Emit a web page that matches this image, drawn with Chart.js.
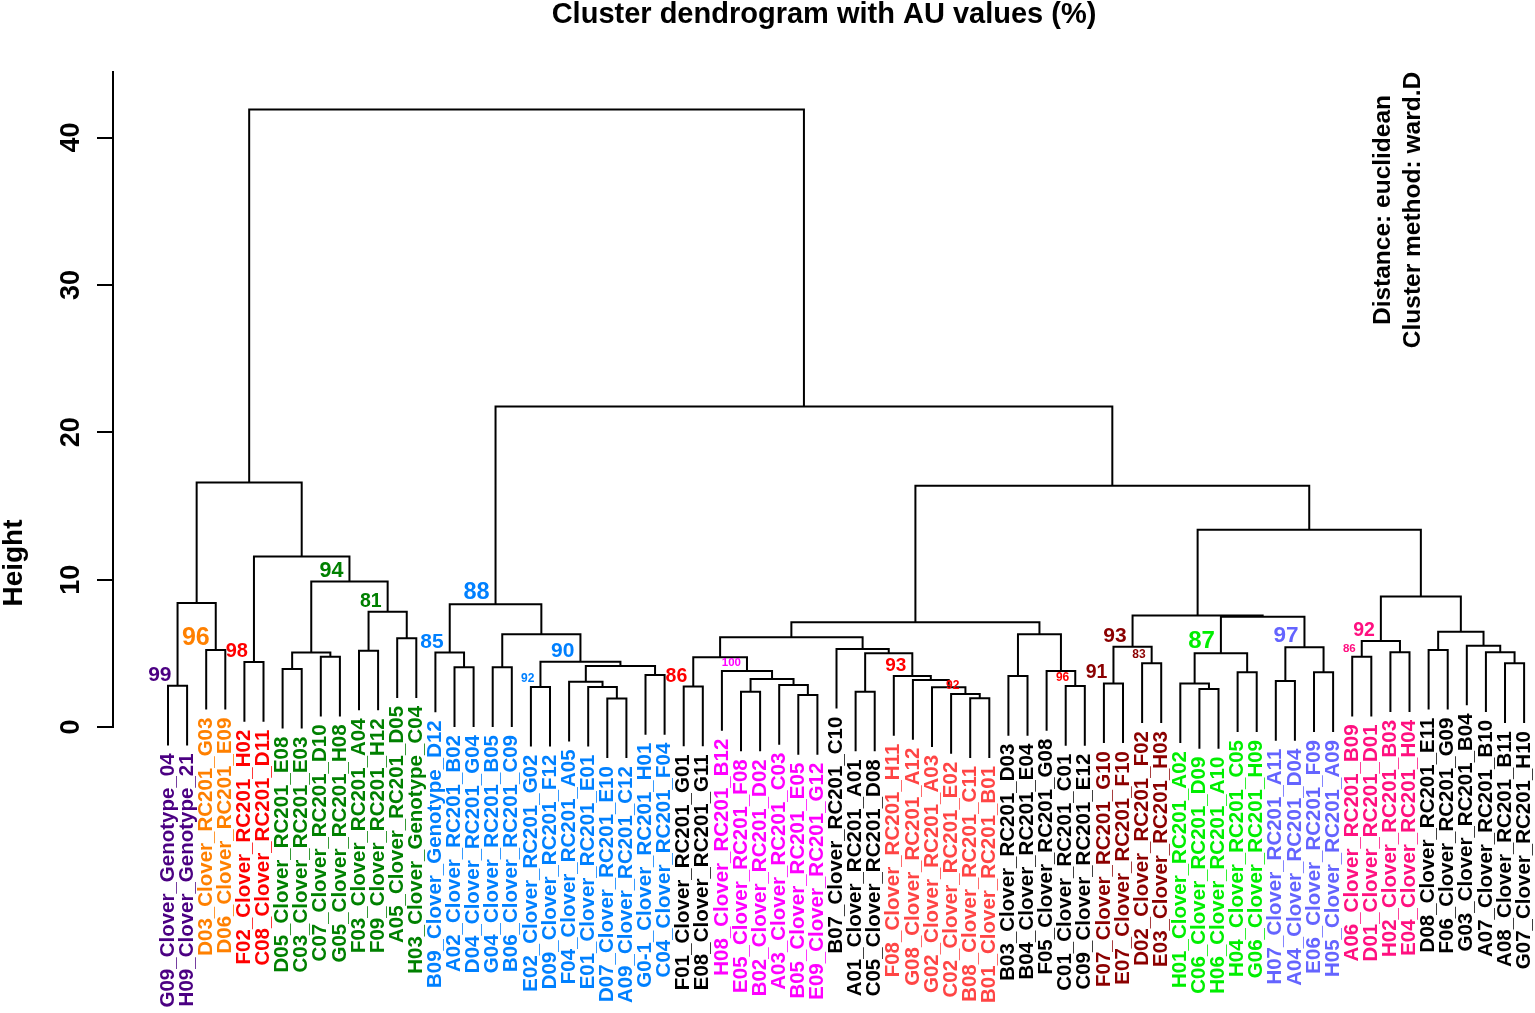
<!DOCTYPE html>
<html>
<head>
<meta charset="utf-8">
<title>Cluster dendrogram with AU values (%)</title>
<script src="https://cdn.jsdelivr.net/npm/chart.js@4.4.1/dist/chart.umd.min.js"></script>
<style>
  html, body { margin: 0; padding: 0; background: #fff; }
</style>
</head>
<body>
<canvas id="dendro" width="1535" height="1013"></canvas>
<script>
// leaves, in the order they are drawn left to right
const leafLabels = [
  'G09_Clover_Genotype_04', 'H09_Clover_Genotype_21',
  'D03_Clover_RC201_G03', 'D06_Clover_RC201_E09',
  'F02_Clover_RC201_H02', 'C08_Clover_RC201_D11',
  'D05_Clover_RC201_E08', 'C03_Clover_RC201_E03', 'C07_Clover_RC201_D10', 'G05_Clover_RC201_H08',
  'F03_Clover_RC201_A04', 'F09_Clover_RC201_H12', 'A05_Clover_RC201_D05', 'H03_Clover_Genotype_C04',
  'B09_Clover_Genotype_D12', 'A02_Clover_RC201_B02', 'D04_Clover_RC201_G04', 'G04_Clover_RC201_B05',
  'B06_Clover_RC201_C09', 'E02_Clover_RC201_G02', 'D09_Clover_RC201_F12', 'F04_Clover_RC201_A05',
  'E01_Clover_RC201_E01', 'D07_Clover_RC201_E10', 'A09_Clover_RC201_C12', 'G0-1_Clover_RC201_H01',
  'C04_Clover_RC201_F04',
  'F01_Clover_RC201_G01', 'E08_Clover_RC201_G11',
  'H08_Clover_RC201_B12', 'E05_Clover_RC201_F08', 'B02_Clover_RC201_D02', 'A03_Clover_RC201_C03',
  'B05_Clover_RC201_E05', 'E09_Clover_RC201_G12',
  'B07_Clover_RC201_C10', 'A01_Clover_RC201_A01', 'C05_Clover_RC201_D08',
  'F08_Clover_RC201_H11', 'G08_Clover_RC201_A12', 'G02_Clover_RC201_A03', 'C02_Clover_RC201_E02',
  'B08_Clover_RC201_C11', 'B01_Clover_RC201_B01',
  'B03_Clover_RC201_D03', 'B04_Clover_RC201_E04', 'F05_Clover_RC201_G08', 'C01_Clover_RC201_C01',
  'C09_Clover_RC201_E12',
  'F07_Clover_RC201_G10', 'E07_Clover_RC201_F10', 'D02_Clover_RC201_F02', 'E03_Clover_RC201_H03',
  'H01_Clover_RC201_A02', 'C06_Clover_RC201_D09', 'H06_Clover_RC201_A10', 'H04_Clover_RC201_C05',
  'G06_Clover_RC201_H09',
  'H07_Clover_RC201_A11', 'A04_Clover_RC201_D04', 'E06_Clover_RC201_F09', 'H05_Clover_RC201_A09',
  'A06_Clover_RC201_B09', 'D01_Clover_RC201_D01', 'H02_Clover_RC201_B03', 'E04_Clover_RC201_H04',
  'D08_Clover_RC201_E11', 'F06_Clover_RC201_G09', 'G03_Clover_RC201_B04', 'A07_Clover_RC201_B10',
  'A08_Clover_RC201_B11', 'G07_Clover_RC201_H10'
];

// runs of consecutive leaves sharing a label colour
const groupSizes = [2, 2, 2, 8, 13, 2, 6, 3, 6, 5, 4, 5, 4, 4, 6];
const groupColors = ['#4B0082', '#FF8000', '#FF0000', '#008000', '#0080FF', '#000000', '#FF00FF',
  '#000000', '#FF4545', '#000000', '#8B0000', '#00EE00', '#6464FF', '#FF1080', '#000000'];

// hclust style merge table: negative = leaf number, positive = earlier merge number
const merges = [
  [-1, -2], [-3, -4], [1, 2], [-5, -6], [-7, -8], [-9, -10], [5, 6], [-11, -12], [-13, -14], [8, 9],
  [7, 10], [4, 11], [3, 12], [-16, -17], [-15, 14], [-18, -19], [-20, -21], [-24, -25], [-23, 18], [-22, 19],
  [-26, -27], [20, 21], [17, 22], [16, 23], [15, 24], [-28, -29], [-31, -32], [-34, -35], [-33, 28], [27, 29],
  [-30, 30], [26, 31], [-37, -38], [-43, -44], [-42, 34], [-41, 35], [-40, 36], [-39, 37], [33, 38], [-36, 39],
  [32, 40], [-45, -46], [-48, -49], [-47, 43], [42, 44], [41, 45], [-50, -51], [-52, -53], [47, 48], [-55, -56],
  [-54, 50], [-57, -58], [51, 52], [-59, -60], [-61, -62], [54, 55], [53, 56], [49, 57], [-63, -64], [-65, -66],
  [59, 60], [-71, -72], [-70, 62], [-69, 63], [-67, -68], [65, 64], [61, 66], [58, 67], [46, 68], [25, 69],
  [13, 70]
];
const heights = [
  2.80, 5.23, 8.42, 4.41, 3.94, 4.77, 5.05, 5.18, 6.02, 7.82,
  9.87, 11.57, 16.59, 4.05, 5.05, 4.05, 2.72, 1.94, 2.72, 3.07,
  3.53, 4.14, 4.43, 6.29, 8.33, 2.74, 2.40, 2.17, 2.85, 3.26,
  3.80, 4.74, 2.40, 1.95, 2.24, 2.70, 3.19, 3.46, 5.00, 5.30,
  6.09, 3.46, 2.78, 3.80, 6.29, 7.11, 2.96, 4.32, 5.45, 2.58,
  2.96, 3.71, 5.00, 3.12, 3.71, 5.41, 7.49, 7.56, 4.77, 5.07,
  5.84, 4.32, 5.07, 5.52, 5.23, 6.47, 8.85, 13.38, 16.37, 21.75,
  41.90
];
// AU values (%) printed at merges, null where none is shown
const auValues = [
  99, 96, null, 98, null, null, null, null, null, 81,
  94, null, null, null, 85, null, 92, null, null, null,
  null, null, 90, null, 88, 86, null, null, null, null,
  100, null, null, null, 92, null, null, 93, null, null,
  null, null, 96, null, null, null, 91, 83, 93, null,
  null, null, 87, null, null, 97, null, null, 86, null,
  92, null, null, null, null, null, null, null, null, null,
  null
];
const auColors = {
  1: '#4B0082', 2: '#FF8000', 4: '#FF0000', 10: '#008000', 11: '#008000', 15: '#0080FF', 17: '#0080FF',
  23: '#0080FF', 25: '#0080FF', 26: '#FF0000', 31: '#FF00FF', 35: '#FF0000', 38: '#FF0000', 43: '#FF0000',
  47: '#8B0000', 48: '#8B0000', 49: '#8B0000', 53: '#00EE00', 56: '#6464FF', 59: '#FF1080', 61: '#FF1080'
};
const auSizes = {
  1: 21, 2: 25, 4: 20, 10: 19.5, 11: 21.5, 15: 21, 17: 12, 23: 21, 25: 23.5, 26: 19.5, 31: 11.5,
  35: 12, 38: 19, 43: 12, 47: 19.5, 48: 12, 49: 21, 53: 24, 56: 22.5, 59: 11.5, 61: 19.5
};
const yTicks = [0, 10, 20, 30, 40];
const hang = 4.05;

const FONT = '"Liberation Sans", Arial, Helvetica, sans-serif';
Chart.defaults.font.family = FONT;

// leaf colours from the runs
const leafColors = [];
groupSizes.forEach((n, g) => { for (let k = 0; k < n; k++) leafColors.push(groupColors[g]); });

// x of every merge = midpoint of its two children (as in plot.hclust)
const nodeX = [];
const leafParentH = [];
merges.forEach((m, i) => {
  const cx = c => c < 0 ? -c : nodeX[c - 1];
  nodeX.push((cx(m[0]) + cx(m[1])) / 2);
  m.forEach(c => { if (c < 0) leafParentH[-c - 1] = heights[i]; });
});

const datasets = merges.map((m, i) => {
  const h = heights[i];
  const end = c => c < 0 ? { x: -c, y: h - hang } : { x: nodeX[c - 1], y: heights[c - 1] };
  const a = end(m[0]), b = end(m[1]);
  return {
    data: [a, { x: a.x, y: h }, { x: b.x, y: h }, b],
    showLine: true,
    borderColor: '#000',
    borderWidth: 2,
    borderJoinStyle: 'miter',
    pointRadius: 0,
    pointHoverRadius: 0,
    tension: 0,
    fill: false,
    clip: false
  };
});

const dendroText = {
  id: 'dendroText',
  afterDatasetsDraw(chart) {
    const ctx = chart.ctx, xs = chart.scales.x, ys = chart.scales.y;
    ctx.save();

    // leaf labels, vertical, ending just under each leaf
    ctx.font = 'bold 20.5px ' + FONT;
    ctx.textAlign = 'right';
    ctx.textBaseline = 'middle';
    leafLabels.forEach((lab, i) => {
      const px = xs.getPixelForValue(i + 1);
      const py = ys.getPixelForValue(leafParentH[i] - hang) + 8;
      ctx.save();
      ctx.translate(px, py);
      ctx.rotate(-Math.PI / 2);
      ctx.fillStyle = leafColors[i];
      ctx.fillText(lab, 0, 0);
      ctx.restore();
    });

    // AU values, left of each merge point
    ctx.textAlign = 'right';
    ctx.textBaseline = 'alphabetic';
    auValues.forEach((v, i) => {
      if (v == null) return;
      ctx.font = 'bold ' + auSizes[i + 1] + 'px ' + FONT;
      ctx.fillStyle = auColors[i + 1];
      ctx.fillText(String(v), xs.getPixelForValue(nodeX[i]) - 6, ys.getPixelForValue(heights[i]) - 5);
    });

    // y axis title and method note
    ctx.fillStyle = '#000';
    ctx.textAlign = 'center';
    const vtext = (t, x, y, f) => {
      ctx.save();
      ctx.font = f;
      ctx.translate(x, y);
      ctx.rotate(-Math.PI / 2);
      ctx.fillText(t, 0, 0);
      ctx.restore();
    };
    vtext('Height', 22, 563, 'bold 28px ' + FONT);
    vtext('Distance: euclidean', 1390, 210, 'bold 24.5px ' + FONT);
    vtext('Cluster method: ward.D', 1420, 210, 'bold 24.5px ' + FONT);
    ctx.restore();
  }
};

new Chart(document.getElementById('dendro'), {
  type: 'scatter',
  data: { datasets: datasets },
  plugins: [dendroText],
  options: {
    responsive: false,
    devicePixelRatio: 1,
    animation: false,
    events: [],
    layout: { padding: { top: 0, left: 0, right: 0, bottom: 286 } },
    plugins: {
      legend: { display: false },
      tooltip: { enabled: false },
      title: {
        display: true,
        fullSize: false,
        text: 'Cluster dendrogram with AU values (%)',
        color: '#000',
        font: { size: 29, weight: 'bold', lineHeight: 1 },
        padding: { top: 0, bottom: 43 }
      }
    },
    scales: {
      x: { type: 'linear', min: -1.8796, max: 72.57, display: false },
      y: {
        type: 'linear',
        min: 0,
        max: 44.45,
        afterBuildTicks: s => { s.ticks = yTicks.map(v => ({ value: v })); },
        afterFit: s => { s.width = 113; },
        ticks: {
          color: '#000',
          font: { size: 27, weight: 'bold' },
          minRotation: 90,
          maxRotation: 90,
          crossAlign: 'center',
          padding: 10
        },
        grid: { drawOnChartArea: false, drawTicks: true, tickLength: 16, color: '#000', lineWidth: 2 },
        border: { display: true, color: '#000', width: 2 }
      }
    }
  }
});
</script>
</body>
</html>
